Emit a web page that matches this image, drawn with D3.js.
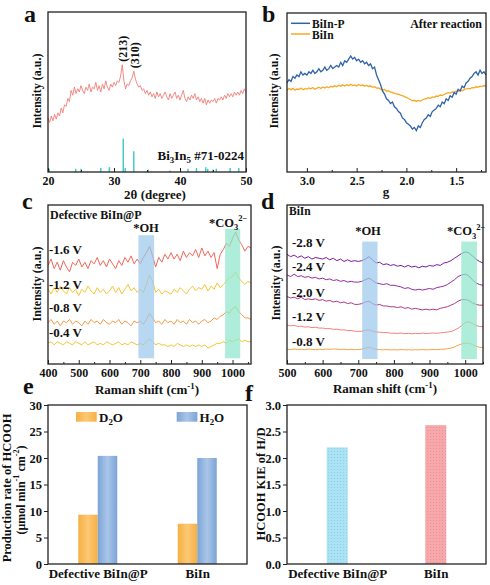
<!DOCTYPE html>
<html><head><meta charset="utf-8">
<script src="https://cdn.jsdelivr.net/npm/d3@7"></script>
<style>body{margin:0;background:#fff}</style>
</head><body><svg width="490" height="585"></svg>
<script>
// ---------- DATA ----------
// (a) XRD, 2θ from 20 to 50, step 0.25
const xrdStart = 20, xrdEnd = 50;
const xrdIntensity = [34,31,35,32,36,33,37,35,40,37, 42,41,46,44,51,48,53,49,52,50,
 54,51,49,53,51,55,50,53,52,56, 51,54,50,55,52,57,53,51,55,53,
 56,54,57,56,60,67,57,52,55,54, 57,59,63,58,55,53,54,51,52,49,
 51,48,50,47,49,46,50,47,49,46, 48,50,47,45,49,46,48,50,46,48,
 45,48,51,46,44,47,45,48,46,49, 45,47,44,46,43,46,42,45,43,45,
 44,46,43,46,45,47,45,48,46,49, 47,49,47,50,48,50,48,51,49,52, 50];
const refPos = [20.2,24.2,25.0,28.0,29.3,31.4,31.7,33.0,35.2,38.5,41.2,42.5,43.9,44.2,45.0,45.5,47.6,48.9];
const refInt = [2,2,2,2.5,3,21,2.5,13,1.5,1,2,2.5,3,2,1.5,2,2.5,2.5];
const peakLabels = ["(213)","(310)"];
const peakPos = [31.25, 33.0];
const peakTop = [67, 63];

// (b) EPR, g from 3.2 to 1.2, step 0.02
const gStart = 3.2, gEnd = 1.2;
const eprBiInP = [56,58,57,60,59,61,60,63,61,62, 61,63,62,64,62,63,65,63,64,66,
 64,65,67,65,66,67,66,69,67,70, 69,71,73,71,72,70,71,69,70,68,
 69,67,68,65,66,61,58,55,51,49, 46,45,43,44,41,40,38,37,34,33,
 31,30,29,27,28,26,29,28,31,33, 34,36,35,38,39,40,42,41,44,43,
 46,45,48,47,50,49,52,51,54,53, 56,57,59,60,62,63,61,64,62,63, 61];
const eprBiIn = [51.5,52.5,51.8,52.6,51.4,52.2,51.9,52.8,51.7,52.4,
 52.1,52.9,52.3,53.1,52.0,52.7,53.3,52.5,53.5,52.8,
 53.6,53.0,53.9,53.4,54.2,53.6,54.5,53.9,54.8,54.1,
 54.9,54.3,55.2,54.4,54.8,54.1,55.0,54.3,54.7,53.9,
 54.4,53.8,54.2,53.3,53.7,52.8,52.9,52.1,51.6,51.9,
 50.9,51.1,50.2,50.0,49.4,49.1,48.9,48.3,48.0,47.4,
 47.0,46.2,45.6,44.8,45.1,44.4,45.0,44.6,45.3,45.8,
 46.1,46.7,46.3,47.2,47.0,47.8,47.6,48.4,48.1,48.9,
 49.3,49.9,49.6,50.4,50.2,50.9,50.7,51.4,51.1,51.8,
 52.2,52.6,52.3,53.1,52.9,53.6,53.2,54.0,53.7,54.4, 54.1];

// (c) Raman, Defective BiIn@P, 400..1060 step 10
const ramanCStart = 400, ramanCEnd = 1060;
const ramanCLabels = ["-1.6 V","-1.2 V","-0.8 V","-0.4 V"];
const ramanCColors = ["#f2665a","#f7c535","#f79a45","#f4c634"];
const ramanC_16 = [62,66,60,64,59,65,61,58,64,62, 66,61,64,60,65,63,67,62,65,61,
 66,63,60,65,62,67,64,68,63,66, 63,67,70,74,68,61,67,64,69,66,
 70,66,69,65,71,67,70,68,72,67, 73,68,71,67,70,60,69,72,76,74, 79,83,78,75,71,74,73];
const ramanC_12 = [47,44,48,45,49,46,44,48,45,47, 43,47,45,49,46,44,48,45,47,44,
 46,49,45,48,44,47,50,46,48,45, 47,45,50,56,52,45,47,44,46,45,
 44,47,45,48,46,44,47,49,46,48, 47,50,46,49,47,51,48,50,52,54, 55,58,54,52,50,52,51];
const ramanC_08 = [26,28,25,27,24,27,26,28,25,27, 26,24,27,25,28,26,27,25,28,26,
 25,27,26,28,25,27,26,24,27,26, 27,25,28,32,29,26,27,25,28,26,
 27,25,28,26,27,25,28,26,27,25, 27,28,26,27,29,28,30,31,33,32, 35,36,33,31,29,29,28];
const ramanC_04 = [13,14,12,14,13,12,14,13,12,14, 13,12,14,12,13,14,12,13,12,14,
 13,12,13,14,12,13,12,14,13,12, 13,12,14,16,14,12,13,12,12,11,
 12,11,13,12,11,12,11,12,11,12, 11,12,10,11,12,13,13,14,13,15, 14,15,16,14,15,14,14];
const ramanCSeries = [ramanC_16, ramanC_12, ramanC_08, ramanC_04];
const ohBandC = [694, 745, 81], co3BandC = [976, 1025, 85], bandBottomC = 3.6;

// (d) Raman, BiIn, 500..1050 step 10
const ramanDStart = 500, ramanDEnd = 1050;
const ramanDLabels = ["-2.8 V","-2.4 V","-2.0 V","-1.2 V","-0.8 V"];
const ramanDColors = ["#7a1a98","#952c9e","#b03a86","#f2837a","#f6a547"];
const ramanD_28 = [69,67.5,68.5,67,68,66.5,67.5,66,67,66.5, 66,67,65.5,66.5,65,66,64.5,65.5,64.5,65,
 64.5,65,66,67.5,65.5,63.5,64,62.5,63,62, 62.5,61.5,62,61,62,61,61.5,60.5,61.5,61,
 62,61.5,62.5,62,63.5,64,65,66.5,68,69.5, 70.5,70,68,66,64.5,63.5];
const ramanD_24 = [56,55,56.5,55,55.5,54.5,55,54,54.5,53.5, 54,53,53.5,52.5,53,52,52.5,51.5,52,51.5,
 51.5,52,53,54,52.5,51,50.5,50,50.5,49.5, 49.5,49,48.5,47.5,48,47,46.5,47,46.5,47,
 47.5,47,48,48.5,49,50,51.5,53,55,56, 56.5,55.5,53,51,50,49.5];
const ramanD_20 = [42.5,41.5,42,41,42,40.5,41,40.5,41,40, 40.5,39.5,40,39,39.5,38.5,39,38,38.5,37.5,
 37.5,38,39,39.5,38,37,37.5,36.5,36.5,36, 36,35.5,36,35,35.5,34.5,35,34.5,34,34.5,
 34,34.5,34,35,35.5,36,37,38,39.5,40.5, 40.5,40,38.5,37.5,37,37];
const ramanD_12 = [24.5,24,24.3,23.6,23.8,23.2,23.4,22.9,23.1,22.6, 22.6,22.2,22.3,21.8,21.9,21.4,21.5,21,21.1,20.6,
 20.5,20.6,21.2,21.5,20.7,20.1,20,19.7,19.8,19.4, 19.4,19.2,19.5,19.1,19.3,19,19.3,19.1,19.4,19.2,
 19.3,19.5,19.3,19.6,19.8,20.1,20.4,21.3,22.5,24, 26,26.5,25.5,24.3,23.6,23.5];
const ramanD_08 = [9.3,9,9.4,9.1,9.3,9,9.4,9.2,9,9.3, 9.1,9.4,9.2,9.5,9.3,9.1,9.3,9,9.2,9,
 9.1,9.3,10,10.5,9.8,9.2,9.1,8.9,9.1,8.9, 9,8.8,9.1,8.9,9,8.8,9,8.9,9.1,8.9,
 9,9.1,9,9.2,9.3,9.6,10,10.8,11.8,12.6, 13,13.1,12.4,11.2,10.5,10.3];
const ramanDSeries = [ramanD_28, ramanD_24, ramanD_20, ramanD_12, ramanD_08];
const ohBandD = [711, 754, 77], co3BandD = [989, 1033, 77], bandBottomD = 3.1;

// (e) production rate
const catalysts = ["Defective BiIn@P","BiIn"];
const rateD2O = [9.3, 7.6];
const rateH2O = [20.4, 20.0];
const rateTicks = [0,5,10,15,20,25,30];
// (f) KIE
const kie = [2.2, 2.62];
const kieTicks = [0,0.5,1.0,1.5,2.0,2.5,3.0];

// ---------- DRAWING ----------
const FONT = '"Liberation Serif","Times New Roman",Times,serif';
const svg = d3.select("svg");
const defs = svg.append("defs");

function T(g,x,y,parts,size,anchor,rot){
  const t=g.append("text").attr("font-family",FONT).attr("font-weight","bold")
    .attr("font-size",size).attr("fill","#111").attr("text-anchor",anchor||"start");
  if(rot) t.attr("transform",`translate(${x},${y}) rotate(${rot})`); else t.attr("x",x).attr("y",y);
  let cur=0;
  (typeof parts==="string"?[[parts,""]]:parts).forEach(([s,k])=>{
    const sh = k==="sub"?0.3*size:k==="sup"?-0.42*size:0;
    const ts=t.append("tspan").text(s).attr("dy",sh-cur);
    if(k) ts.attr("font-size",size*0.68);
    cur=sh;
  });
  return t;
}
function styleAxis(g,size){
  g.select(".domain").remove();
  g.attr("font-family",FONT).attr("font-weight","bold").attr("font-size",size||12).attr("color","#222");
  g.selectAll("text").attr("fill","#111");
  g.selectAll("line").attr("stroke-width",1);
}
function frame(x0,x1,y0,y1){
  svg.append("rect").attr("x",x0).attr("y",y0).attr("width",x1-x0).attr("height",y1-y0)
    .attr("fill","none").attr("stroke","#222").attr("stroke-width",1.3);
}
function bottomTicks(scale,y,major,minor,fmt){
  const g=svg.append("g").attr("transform",`translate(0,${y})`)
    .call(d3.axisBottom(scale).tickValues(major).tickSize(-4).tickPadding(4).tickFormat(fmt||d3.format("d")));
  styleAxis(g);
  const m=svg.append("g").attr("transform",`translate(0,${y})`)
    .call(d3.axisBottom(scale).tickValues(minor).tickSize(-2).tickFormat(""));
  styleAxis(m);
}
function panelLetter(x,y,s){ T(svg,x,y,s,24); }

// ===== (a) =====
const xA=d3.scaleLinear([20,50],[48,246]), yA=d3.scaleLinear([0,100],[172,12]);
const xrdX = xrdIntensity.map((_,i)=>xrdStart+i*(xrdEnd-xrdStart)/(xrdIntensity.length-1));
svg.append("path").datum(xrdIntensity).attr("fill","none").attr("stroke","#f07d79").attr("stroke-width",0.9)
  .attr("d",d3.line().x((d,i)=>xA(xrdX[i])).y(d=>yA(d)));
svg.append("g").selectAll("line").data(refPos).join("line")
  .attr("x1",d=>xA(d)).attr("x2",d=>xA(d)).attr("y1",yA(0)).attr("y2",(d,i)=>yA(refInt[i]))
  .attr("stroke","#3cc6c9").attr("stroke-width",1.4);
peakLabels.forEach((s,i)=>T(svg,xA(peakPos[i])+5,yA(peakTop[i])-3,s,12,"start",-90));
T(svg,244,159.5,[["Bi",""],["3","sub"],["In",""],["5","sub"],[" #71-0224",""]],13,"end");
bottomTicks(xA,172,[20,30,40,50],[25,35,45]);
T(svg,155,199,"2θ (degree)",13,"middle");
T(svg,41,91,"Intensity (a.u.)",12,"middle",-90);
frame(48,246,12,172);
panelLetter(24,22,"a");

// ===== (b) =====
const xB=d3.scaleLinear([3.2,1.2],[287,486]), yB=d3.scaleLinear([0,100],[172,13]);
const gX = eprBiInP.map((_,i)=>gStart+i*(gEnd-gStart)/(eprBiInP.length-1));
svg.append("path").datum(eprBiIn).attr("fill","none").attr("stroke","#f7a823").attr("stroke-width",1.3)
  .attr("d",d3.line().x((d,i)=>xB(gX[i])).y(d=>yB(d)));
svg.append("path").datum(eprBiInP).attr("fill","none").attr("stroke","#2f63a8").attr("stroke-width",1.3)
  .attr("d",d3.line().x((d,i)=>xB(gX[i])).y(d=>yB(d)));
svg.append("line").attr("x1",291).attr("x2",310).attr("y1",23.3).attr("y2",23.3).attr("stroke","#2f63a8").attr("stroke-width",1.5);
svg.append("line").attr("x1",291).attr("x2",310).attr("y1",34).attr("y2",34).attr("stroke","#f7a823").attr("stroke-width",1.5);
T(svg,312,27.5,"BiIn-P",11.5);
T(svg,312,38.5,"BiIn",11.5);
T(svg,482,27.5,"After reaction",12,"end");
bottomTicks(xB,172,[3.0,2.5,2.0,1.5],[2.75,2.25,1.75,1.25],d3.format(".1f"));
T(svg,386,196,"g",13,"middle");
T(svg,278,91,"Intensity (a.u.)",12,"middle",-90);
frame(287,486,13,172);
panelLetter(262,22,"b");

// ===== (c) =====
const xC=d3.scaleLinear([400,1060],[48,251]), yC=d3.scaleLinear([0,100],[364,205]);
ramanCSeries.forEach((s,k)=>{
  svg.append("path").datum(s).attr("fill","none").attr("stroke",ramanCColors[k]).attr("stroke-width",1)
    .attr("d",d3.line().x((d,i)=>xC(ramanCStart+i*(ramanCEnd-ramanCStart)/(s.length-1))).y(d=>yC(d)));
});
[[ohBandC,"#9cc8ec"],[co3BandC,"#8fe6cc"]].forEach(([b,c])=>{
  svg.append("rect").attr("x",xC(b[0])).attr("width",xC(b[1])-xC(b[0]))
    .attr("y",yC(b[2])).attr("height",yC(bandBottomC)-yC(b[2])).attr("fill",c).attr("opacity",0.72);
});
const cLabY=[254,289,311.5,336.5];
ramanCLabels.forEach((s,i)=>T(svg,49,cLabY[i],s,13));
T(svg,50,218.5,"Defective BiIn@P",12);
T(svg,146,231.5,"*OH",12.5,"middle");
T(svg,209,226.5,[["*CO",""],["3","sub"],["2−","sup"]],12.5);
bottomTicks(xC,364,[400,500,600,700,800,900,1000],[450,550,650,750,850,950,1050]);
T(svg,147,394,[["Raman shift (cm",""],["-1","sup"],[")",""]],13,"middle");
T(svg,41,284,"Intensity (a.u.)",12,"middle",-90);
frame(48,251,205,364);
panelLetter(22,209,"c");

// ===== (d) =====
const xD=d3.scaleLinear([500,1050],[287,483]), yD=d3.scaleLinear([0,100],[364,205]);
ramanDSeries.forEach((s,k)=>{
  svg.append("path").datum(s).attr("fill","none").attr("stroke",ramanDColors[k]).attr("stroke-width",1)
    .attr("d",d3.line().x((d,i)=>xD(ramanDStart+i*(ramanDEnd-ramanDStart)/(s.length-1))).y(d=>yD(d)));
});
[[ohBandD,"#9cc8ec"],[co3BandD,"#8fe6cc"]].forEach(([b,c])=>{
  svg.append("rect").attr("x",xD(b[0])).attr("width",xD(b[1])-xD(b[0]))
    .attr("y",yD(b[2])).attr("height",yD(bandBottomD)-yD(b[2])).attr("fill",c).attr("opacity",0.72);
});
const dLabY=[247,271,296.5,321,345.5];
ramanDLabels.forEach((s,i)=>T(svg,292,dLabY[i],s,13));
T(svg,289,215,"BiIn",11.5);
T(svg,368,235,"*OH",12.5,"middle");
T(svg,447,235,[["*CO",""],["3","sub"],["2−","sup"]],12.5);
bottomTicks(xD,364,[500,600,700,800,900,1000],[550,650,750,850,950,1050]);
T(svg,385,393,[["Raman shift (cm",""],["-1","sup"],[")",""]],13,"middle");
T(svg,279.5,283,"Intensity (a.u.)",12,"middle",-90);
frame(287,483,205,364);
panelLetter(261,209,"d");

// ===== (e) =====
function grad(id,edge,mid){
  const g=defs.append("linearGradient").attr("id",id).attr("x1",0).attr("x2",1).attr("y1",0).attr("y2",0);
  g.append("stop").attr("offset","0%").attr("stop-color",edge);
  g.append("stop").attr("offset","50%").attr("stop-color",mid);
  g.append("stop").attr("offset","100%").attr("stop-color",edge);
}
grad("gD2O","#f7b043","#fcc874");
grad("gH2O","#7ca4d6","#a9c6e8");
const xE=d3.scalePoint(catalysts,[48,247]).padding(0.5), yE=d3.scaleLinear([0,30],[564,405]);
const bwE=19.5;
svg.append("g").selectAll("rect").data(rateD2O).join("rect")
  .attr("x",(d,i)=>xE(catalysts[i])-bwE).attr("width",bwE).attr("y",d=>yE(d)).attr("height",d=>yE(0)-yE(d)).attr("fill","url(#gD2O)");
svg.append("g").selectAll("rect").data(rateH2O).join("rect")
  .attr("x",(d,i)=>xE(catalysts[i])).attr("width",bwE).attr("y",d=>yE(d)).attr("height",d=>yE(0)-yE(d)).attr("fill","url(#gH2O)");
svg.append("rect").attr("x",76).attr("y",412).attr("width",20.7).attr("height",9.7).attr("fill","url(#gD2O)");
svg.append("rect").attr("x",176.7).attr("y",412).attr("width",20.7).attr("height",9.7).attr("fill","url(#gH2O)");
T(svg,99,421.5,[["D",""],["2","sub"],["O",""]],13);
T(svg,199.5,421.5,[["H",""],["2","sub"],["O",""]],13);
let ga=svg.append("g").attr("transform","translate(48,0)").call(d3.axisLeft(yE).tickValues(rateTicks).tickSize(4).tickPadding(2));
styleAxis(ga,12.5);
ga=svg.append("g").attr("transform","translate(0,564)").call(d3.axisBottom(xE).tickSize(0).tickPadding(5));
styleAxis(ga,13);
T(svg,11,488,"Production rate of HCOOH",12.5,"middle",-90);
T(svg,24.5,490,[["(μmol min",""],["-1","sup"],[" cm",""],["-2","sup"],[")",""]],12,"middle",-90);
frame(48,247,405,564);
panelLetter(23,394,"e");

// ===== (f) =====
function dots(id,bg,dot){
  const p=defs.append("pattern").attr("id",id).attr("width",3).attr("height",3).attr("patternUnits","userSpaceOnUse");
  p.append("rect").attr("width",3).attr("height",3).attr("fill",bg);
  p.append("circle").attr("cx",1.5).attr("cy",1.5).attr("r",0.55).attr("fill",dot);
}
dots("pBlue","#abe2f4","#8ccbe6");
dots("pPink","#f6a8aa","#e98e92");
const xF=d3.scalePoint(catalysts,[287,486]).padding(0.51), yF=d3.scaleLinear([0,3],[564,405]);
const bwF=21, kieFill=["url(#pBlue)","url(#pPink)"];
svg.append("g").selectAll("rect").data(kie).join("rect")
  .attr("x",(d,i)=>xF(catalysts[i])-bwF/2).attr("width",bwF).attr("y",d=>yF(d)).attr("height",d=>yF(0)-yF(d))
  .attr("fill",(d,i)=>kieFill[i]);
ga=svg.append("g").attr("transform","translate(287,0)").call(d3.axisLeft(yF).tickValues(kieTicks).tickSize(4).tickPadding(2).tickFormat(d3.format(".1f")));
styleAxis(ga,12.5);
ga=svg.append("g").attr("transform","translate(0,564)").call(d3.axisBottom(xF).tickSize(0).tickPadding(5));
styleAxis(ga,13);
T(svg,264.5,484,"HCOOH KIE of H/D",12.5,"middle",-90);
frame(287,486,405,564);
panelLetter(245,401,"f");
</script></body></html>
